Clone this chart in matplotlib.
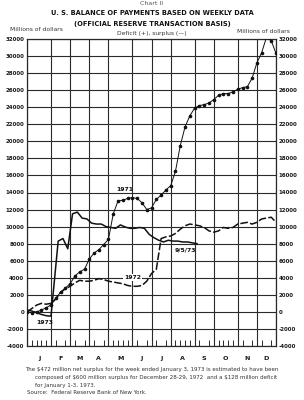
import matplotlib
matplotlib.use("Agg")
import matplotlib.pyplot as plt
import numpy as np

plt.rcParams['font.family'] = ['DejaVu Sans']

# weeks per month (52 weeks total)
month_labels = ["J", "F", "M", "A", "M", "J", "J", "A", "S", "O", "N", "D"]
month_weeks = [5, 4, 4, 4, 5, 4, 4, 5, 4, 5, 4, 4]

# 1971, weekly, millions of dollars
y1971 = [0, -100, 0, 200, 500, 800, 1600, 2300, 2800, 3300, 4200, 4700, 5000,
         6200, 6900, 7300, 7900, 8500, 11500, 13000, 13100, 13300, 13400, 13300,
         12800, 12000, 12200, 13200, 13700, 14300, 14800, 16500, 19500, 21700,
         23000, 23900, 24200, 24300, 24500, 24900, 25400, 25600, 25600, 25800,
         26100, 26300, 26400, 27400, 29200, 30400, 32200, 31800, 30300]

# 1972, weekly
y1972 = [0, 400, 800, 1000, 900, 1000, 1500, 2300, 2700, 3000, 3400, 3700, 3600,
         3600, 3700, 3900, 3800, 3600, 3500, 3400, 3300, 3100, 3000, 3000, 3100,
         3600, 4500, 5000, 8600, 8800, 8900, 9200, 9700, 10100, 10300, 10200,
         10100, 9900, 9500, 9350, 9500, 9900, 9800, 9900, 10300, 10400, 10500,
         10300, 10500, 10900, 11000, 11100, 10500]

# 1973, weekly through 9/5/73
w1973 = [0, 1, 2, 3, 4, 5] + list(np.arange(6.5, 36, 1.0))
y1973 = [200, 100, -100, -300, -450, -500, 8300, 8600, 7400, 11500, 11700,
         11000, 10900, 10400, 10300, 10300, 10000, 9900, 9800, 10200, 9950,
         9800, 9800, 9900, 9800, 9100, 8700, 8400, 8200, 8400, 8300, 8300,
         8200, 8200, 8100, 8000]

yticks = list(range(-4000, 32001, 2000))

fig = plt.figure(figsize=(3.04, 4.0), dpi=100)
ax = fig.add_axes([0.089, 0.135, 0.819, 0.7675])

ink = "#2a2a2a"
for b in np.cumsum([0] + month_weeks):
    ax.axvline(b, color=ink, lw=0.8, zorder=1)
for v in yticks:
    ax.axhline(v, color=ink, lw=0.8, zorder=1)

w71 = np.arange(len(y1971))
w72 = np.arange(len(y1972))
ax.plot(w71, y1971, color="#111", lw=0.7, marker="o", ms=1.6, zorder=3)
ax.plot(w72, y1972, color="#111", lw=1.1, dashes=(5, 1.5), zorder=3)
ax.plot(w1973, y1973, color="#111", lw=1.1, zorder=3)

ax.set_xlim(0, 52)
ax.set_ylim(-4000, 32000)
ax.set_yticks(yticks)
ax.set_yticklabels([str(v) for v in yticks], fontsize=4.0, fontweight="bold")
ax.tick_params(axis="y", length=0, pad=2, labelleft=True, labelright=True,
               colors="#1a1a1a")

centers = np.cumsum([0] + month_weeks[:-1]) + np.array(month_weeks) / 2
ax.set_xticks(centers)
ax.set_xticklabels(month_labels, fontsize=4.6, fontweight="bold")
ax.tick_params(axis="x", length=0, pad=7, colors="#1a1a1a")
ax.set_xticks(np.arange(0, 53), minor=True)
ax.tick_params(axis="x", which="minor", direction="in", length=4.5,
               width=0.7, color=ink)
for s in ax.spines.values():
    s.set_color(ink)
    s.set_linewidth(0.9)

tkw = dict(fontsize=4.4, fontweight="bold", color="#111", ha="center",
           va="center", zorder=4)
ax.text(20.5, 14300, "1971", **tkw)
ax.text(22.0, 4000, "1972",
        bbox=dict(facecolor="white", edgecolor="none", pad=0.6), **tkw)
ax.text(3.8, -1300, "1973", **tkw)
ax.text(33.0, 7200, "9/5/73", **tkw)

fig.text(0.5, 0.997, "Chart II", ha="center", va="top", fontsize=4.5,
         color="#555")
fig.text(0.5, 0.967, "U. S. BALANCE OF PAYMENTS BASED ON WEEKLY DATA",
         ha="center", va="center", fontsize=4.8, fontweight="bold",
         color="#111")
fig.text(0.5, 0.94, "(OFFICIAL RESERVE TRANSACTION BASIS)", ha="center",
         va="center", fontsize=4.8, fontweight="bold", color="#111")
fig.text(0.033, 0.926, "Millions of dollars", ha="left", va="center",
         fontsize=4.3, color="#333")
fig.text(0.955, 0.922, "Millions of dollars", ha="right", va="center",
         fontsize=4.3, color="#333")
fig.text(0.5, 0.917, "Deficit (+), surplus (\u2014)", ha="center",
         va="center", fontsize=4.3, color="#333")

note = dict(fontsize=4.0, color="#333", va="center", ha="left")
fig.text(0.083, 0.077, r"The \$472 million net surplus for the week ended "
         "January 3, 1973 is estimated to have been", **note)
fig.text(0.115, 0.057, r"composed of \$600 million surplus for December "
         r"28-29, 1972  and a \$128 million deficit", **note)
fig.text(0.115, 0.037, "for January 1-3, 1973.", **note)
fig.text(0.09, 0.019, "Source:  Federal Reserve Bank of New York.", **note)

fig.savefig("out.png", dpi=100)
